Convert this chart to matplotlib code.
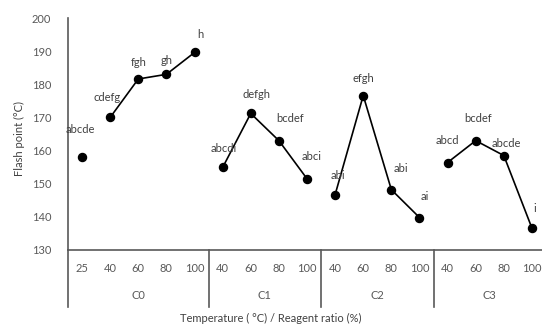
import numpy as np
import matplotlib.pyplot as plt

plt.rcParams['font.family'] = ['Lato', 'DejaVu Sans']

groups = ['C0', 'C1', 'C2', 'C3']
levels = [[25, 40, 60, 80, 100], [40, 60, 80, 100], [40, 60, 80, 100], [40, 60, 80, 100]]
flash = [[158, 170, 181.6, 183, 189.6],
         [154.9, 171.2, 163, 151.5],
         [146.7, 176.6, 148.2, 139.8],
         [156.4, 163, 158.5, 136.6]]
letters = [['abcde', 'cdefg', 'fgh', 'gh', 'h'],
           ['abcdi', 'defgh', 'bcdef', 'abci'],
           ['abi', 'efgh', 'abi', 'ai'],
           ['abcd', 'bcdef', 'abcde', 'i']]
# first point of C0 (25 °C) stands alone, the rest are joined
joined_from = [1, 0, 0, 0]

# label nudges in points (dx, dy)
nudges = [[(-1, 20), (-2, 14), (0, 12), (0, 10), (4, 13)],
          [(1, 14), (4, 14), (8, 16), (3, 16)],
          [(2, 14), (0, 12), (7, 15), (4, 15)],
          [(0, 16), (2, 16), (2, 9), (2, 14)]]

fig = plt.figure(figsize=(5.42, 3.29), dpi=100)
ax = fig.add_axes([68 / 542, 79 / 329, 478 / 542, 232 / 329])

gray = '#595959'
txt = '#404040'

pos = 0
starts = []
for g, lv in enumerate(levels):
    x = np.arange(pos, pos + len(lv))
    y = np.array(flash[g])
    s = joined_from[g]
    ax.plot(x[s:], y[s:], color='black', lw=1.2, zorder=2)
    ax.plot(x, y, 'o', color='black', ms=5.8, zorder=3)
    for xi, yi, lab, (dx, dy) in zip(x, y, letters[g], nudges[g]):
        ax.annotate(lab, (xi, yi), xytext=(dx, dy), textcoords='offset points',
                    ha='center', va='center', fontsize=8, color=txt)
    starts.append(pos)
    pos += len(lv)

ax.set_xlim(-0.5, pos - 0.5)
ax.set_ylim(130, 200)
ax.set_yticks(np.arange(130, 201, 10))
ax.tick_params(axis='y', length=0, labelsize=8, labelcolor=gray, pad=12)
ax.set_xticks([])

for side in ['top', 'right']:
    ax.spines[side].set_visible(False)
for side in ['left', 'bottom']:
    ax.spines[side].set_color(gray)
    ax.spines[side].set_linewidth(1.2)

trans = ax.get_xaxis_transform()
# category tick labels and group labels
pos = 0
for g, lv in enumerate(levels):
    for i, v in enumerate(lv):
        ax.text(pos + i, -0.078, str(v), transform=trans, ha='center', va='center',
                fontsize=8, color=gray)
    ax.text(pos + (len(lv) - 1) / 2, -0.197, groups[g], transform=trans,
            ha='center', va='center', fontsize=8, color=gray)
    pos += len(lv)

# group dividers running down from the axis
for b in [-0.5] + [s - 0.5 for s in starts[1:]]:
    ax.plot([b, b], [0, -0.246], transform=trans, color=gray, lw=1.2, clip_on=False)

fig.text(0.036, 0.58, 'Flash point (°C)', rotation=90, ha='center', va='center',
         fontsize=8, color=txt)
fig.text(0.5, 0.032, 'Temperature ( °C) / Reagent ratio (%)', ha='center', va='center',
         fontsize=8, color=txt)

fig.savefig('out.png', dpi=100)
